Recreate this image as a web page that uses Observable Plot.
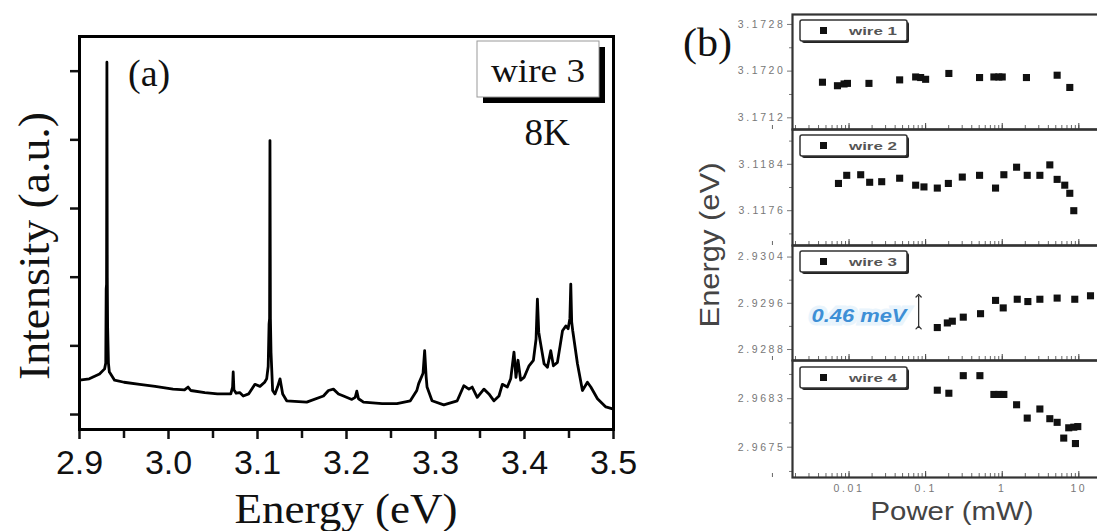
<!DOCTYPE html>
<html><head><meta charset="utf-8">
<script src="https://cdn.jsdelivr.net/npm/d3@7"></script>
<script src="https://cdn.jsdelivr.net/npm/@observablehq/plot@0.6"></script>
<style>
html,body{margin:0;padding:0;background:#fff;overflow:hidden}
#fig{position:relative;width:1097px;height:531px;overflow:hidden;background:#fff}
#fig svg{position:absolute;overflow:visible;background:transparent}
.pb text{letter-spacing:2.6px}
</style></head><body><div id="fig"></div>
<script>
// ---------- Panel (a): PL spectrum of wire 3 at 8K ----------
const specEnergy = [2.900,2.911,2.9225,2.9282,2.9295,2.9300,2.9304,2.9308,2.9312,2.9316,2.9325,2.9335,2.9345,2.9394,2.950,2.9676,2.985,3.0051,3.018,3.0220,3.025,3.0408,3.055,3.0700,3.0720,3.0727,3.0735,3.0760,3.0800,3.0840,3.0900,3.0971,3.1028,3.1080,3.1103,3.1120,3.1130,3.1136,3.1140,3.1145,3.1152,3.1170,3.1196,3.1225,3.1253,3.1283,3.1328,3.1553,3.1741,3.1797,3.1853,3.1910,3.1966,3.2060,3.2098,3.2116,3.2135,3.2191,3.2400,3.2567,3.2717,3.2790,3.2811,3.2860,3.2878,3.2895,3.2905,3.2961,3.3093,3.3244,3.3318,3.3375,3.3412,3.3469,3.3544,3.3600,3.3657,3.3713,3.3751,3.3807,3.3845,3.3882,3.3904,3.3927,3.3957,3.3995,3.4051,3.4100,3.4130,3.4145,3.4160,3.4175,3.4220,3.4258,3.4295,3.4325,3.4370,3.4400,3.4427,3.4464,3.4490,3.4510,3.4520,3.4530,3.4542,3.4595,3.4651,3.4707,3.4745,3.4820,3.4914,3.5000];
const specIntensity = [0.50,0.52,0.59,0.665,0.75,1.83,1.9,5.13,2.0,1.27,0.75,0.62,0.60,0.50,0.47,0.44,0.41,0.37,0.36,0.40,0.35,0.32,0.30,0.30,0.40,0.62,0.36,0.31,0.32,0.27,0.30,0.44,0.41,0.47,0.52,0.70,1.32,1.40,3.99,1.40,0.90,0.35,0.30,0.40,0.52,0.30,0.20,0.18,0.27,0.35,0.37,0.30,0.27,0.22,0.25,0.34,0.23,0.18,0.16,0.16,0.20,0.35,0.45,0.60,0.93,0.55,0.40,0.20,0.14,0.20,0.42,0.37,0.40,0.25,0.37,0.30,0.20,0.27,0.44,0.40,0.52,0.91,0.54,0.79,0.50,0.54,0.71,0.79,1.10,1.68,1.20,1.08,0.74,0.69,0.93,0.71,0.76,1.00,1.22,1.29,1.25,1.40,1.90,1.35,1.22,0.74,0.35,0.47,0.40,0.23,0.11,0.08];
const energyTicks = [2.9,3.0,3.1,3.2,3.3,3.4,3.5];
const energyTickLabels = ["2.9","3.0","3.1","3.2","3.3","3.4","3.5"];
const energyMinorTicks = [2.95,3.05,3.15,3.25,3.35,3.45];
const intensityTicks = [0,1,2,3,4,5];

// ---------- Panel (b): peak energy vs excitation power ----------
const wire1Power  = [0.0045,0.00706,0.00861,0.00953,0.0182,0.0458,0.0741,0.0861,0.100,0.201,0.506,0.778,0.903,1.00,2.07,5.21,7.62];
const wire1Energy = [3.17181,3.17175,3.17178,3.17179,3.17179,3.17185,3.17190,3.17189,3.17186,3.17196,3.17189,3.17190,3.17190,3.17190,3.17189,3.17193,3.17172];
const wire2Power  = [0.00728,0.00933,0.0142,0.0186,0.0267,0.0458,0.0741,0.0951,0.142,0.198,0.301,0.506,0.818,1.05,1.54,2.12,3.10,4.18,5.21,6.55,7.62,8.59];
const wire2Energy = [3.11807,3.11821,3.11822,3.11809,3.11810,3.11816,3.11804,3.11801,3.11799,3.11807,3.11818,3.11821,3.11799,3.11822,3.11835,3.11821,3.11821,3.11839,3.11814,3.11804,3.11790,3.11760];
const wire3Power  = [0.142,0.192,0.223,0.310,0.521,0.818,1.03,1.57,2.16,3.10,5.21,8.85,14.2];
const wire3Energy = [2.92918,2.92926,2.92929,2.92936,2.92942,2.92965,2.92952,2.92967,2.92963,2.92967,2.92969,2.92967,2.92973];
const wire4Power  = [0.142,0.201,0.310,0.511,0.778,0.903,1.05,1.54,2.12,3.10,4.18,5.21,6.35,7.38,8.59,9.03,9.69];
const wire4Energy = [2.96844,2.96839,2.96868,2.96868,2.96837,2.96837,2.96837,2.96820,2.96798,2.96813,2.96797,2.96791,2.96765,2.96782,2.96783,2.96756,2.96784];
const wireNames = ["wire 1","wire 2","wire 3","wire 4"];
const wireTicks = [[3.1712,3.1720,3.1728],[3.1176,3.1184],[2.9288,2.9296,2.9304],[2.9675,2.9683]];
const wireMinorTicks = [[3.1716,3.1724],[3.1172,3.1180,3.1188],[2.9292,2.9300],[2.9671,2.9679,2.9687]];
const wireDomains = [[3.17100,3.17297],[3.11700,3.11900],[2.92861,2.93060],[2.96700,2.96893]];
const powerTicks = [0.01,0.1,1,10];
const powerTickLabels = ["0.01","0.1","1","10"];
const powerMinorTicks = [];
for (const dec of [0.001,0.01,0.1,1,10]) for (let k = 1; k <= 9; k++) powerMinorTicks.push(+(k*dec).toPrecision(3));
const arrowPower = 0.081;

const fig = document.getElementById("fig");
function place(svg, left, top, cls) {
  svg.style.left = left + "px"; svg.style.top = top + "px";
  if (cls) svg.classList.add(cls);
  fig.appendChild(svg);
}

// Panel (a)
const spec = specEnergy.map((e, i) => ({e, v: specIntensity[i]}));
const pa = Plot.plot({
  width: 640, height: 531,
  marginLeft: 79, marginRight: 27, marginTop: 36, marginBottom: 102,
  style: {background: "transparent", overflow: "visible", fontFamily: "Liberation Sans, Arial, sans-serif"},
  x: {domain: [2.9, 3.5]},
  y: {domain: [-0.218, 5.505]},
  marks: [
    Plot.axisX({ticks: energyTicks, tickFormat: d => energyTickLabels[energyTicks.indexOf(d)], tickSize: 10, tickPadding: 10, strokeWidth: 2.5, fontSize: 34, label: null, color: "#111"}),
    Plot.axisX({ticks: energyMinorTicks, tickFormat: () => "", tickSize: 9, strokeWidth: 2.5, label: null, color: "#111"}),
    Plot.axisY({ticks: intensityTicks, tickFormat: () => "", tickSize: 9, strokeWidth: 2.5, label: null, color: "#111"}),
    Plot.line(spec, {x: "e", y: "v", stroke: "#000", strokeWidth: 2.8, strokeLinejoin: "round"}),
    Plot.frame({stroke: "#000", strokeWidth: 3})
  ]
});
place(pa, 0, 0);

// Panel (b): four stacked panels
const wirePowers = [wire1Power, wire2Power, wire3Power, wire4Power];
const wireEnergies = [wire1Energy, wire2Energy, wire3Energy, wire4Energy];
const panelTops = [0, 129, 245, 360];
const panelSpecs = [
  {height: 129, mt: 14, mb: 0},
  {height: 116, mt: 0, mb: 0},
  {height: 115, mt: 0, mb: 0},
  {height: 171, mt: 0, mb: 54}
];
for (let w = 0; w < 4; w++) {
  const data = wirePowers[w].map((p, i) => ({p, e: wireEnergies[w][i]}));
  const marks = [
    Plot.axisY({ticks: wireTicks[w], tickFormat: d => d.toFixed(4), tickSize: 5, tickPadding: 2, fontSize: 10.5, label: null, color: "#777"}),
    Plot.axisY({ticks: wireMinorTicks[w], tickFormat: () => "", tickSize: 3, label: null, color: "#777"}),
    Plot.axisX({ticks: powerMinorTicks, tickFormat: () => "", tickSize: 4, dy: -4, label: null, color: "#666"}),
    Plot.axisX({ticks: powerTicks, tickFormat: () => "", tickSize: 6, dy: -6, label: null, color: "#444"}),
    Plot.dot(data, {x: "p", y: "e", symbol: "square", r: 4, fill: "#111", stroke: null})
  ];
  if (w === 3) {
    marks.push(Plot.axisX({ticks: powerTicks, tickFormat: d => powerTickLabels[powerTicks.indexOf(d)], tickSize: 0, tickPadding: 7, fontSize: 10.5, label: null, color: "#777"}));
  }
  if (w === 2) {
    const [lo, hi] = d3.extent(wire3Energy);
    marks.push(Plot.link([0], {x1: () => arrowPower, x2: () => arrowPower, y1: () => lo, y2: () => hi, stroke: "#333", strokeWidth: 1.3, markerStart: "arrow", markerEnd: "arrow"}));
  }
  marks.push(Plot.frame({stroke: "#333", strokeWidth: 2.2}));
  const ps = panelSpecs[w];
  const pb = Plot.plot({
    width: 430, height: ps.height,
    marginLeft: 112, marginRight: 6, marginTop: ps.mt, marginBottom: ps.mb,
    style: {background: "transparent", overflow: "visible", fontFamily: "Liberation Sans, Arial, sans-serif"},
    x: {type: "log", domain: [0.001828, 21.63]},
    y: {domain: wireDomains[w]},
    marks
  });
  place(pb, 680, panelTops[w], "pb");
}

// Overlay: titles, labels, legends
const ov = d3.create("svg").attr("width", 1097).attr("height", 531)
  .style("left", "0px").style("top", "0px");
const serif = "Liberation Serif, Times New Roman, serif";
const sans = "Liberation Sans, Arial, sans-serif";
ov.append("text").attr("transform", "translate(34,246) rotate(-90)")
  .attr("text-anchor", "middle").attr("dominant-baseline", "central")
  .attr("font-family", serif).attr("font-size", 44).attr("fill", "#111")
  .attr("textLength", 268).attr("lengthAdjust", "spacingAndGlyphs")
  .text("Intensity (a.u.)");
ov.append("text").attr("x", 346).attr("y", 523).attr("text-anchor", "middle")
  .attr("font-family", serif).attr("font-size", 42).attr("fill", "#111")
  .attr("textLength", 223).attr("lengthAdjust", "spacingAndGlyphs")
  .text("Energy (eV)");
ov.append("text").attr("x", 128).attr("y", 86)
  .attr("font-family", serif).attr("font-size", 38).attr("fill", "#111").text("(a)");
// wire 3 legend box
ov.append("rect").attr("x", 483).attr("y", 47).attr("width", 122).attr("height", 56).attr("fill", "#000");
ov.append("rect").attr("x", 477).attr("y", 41).attr("width", 122).attr("height", 56).attr("fill", "#fff").attr("stroke", "#999").attr("stroke-width", 1);
ov.append("text").attr("x", 538).attr("y", 82).attr("text-anchor", "middle")
  .attr("font-family", serif).attr("font-size", 33).attr("fill", "#111")
  .attr("textLength", 94).attr("lengthAdjust", "spacingAndGlyphs").text("wire 3");
ov.append("text").attr("x", 547).attr("y", 145).attr("text-anchor", "middle")
  .attr("font-family", serif).attr("font-size", 37).attr("fill", "#111").text("8K");
// panel (b) labels
ov.append("text").attr("x", 683).attr("y", 56)
  .attr("font-family", serif).attr("font-size", 40).attr("fill", "#111")
  .attr("textLength", 49).attr("lengthAdjust", "spacingAndGlyphs").text("(b)");
ov.append("text").attr("transform", "translate(710,245) rotate(-90)")
  .attr("text-anchor", "middle").attr("dominant-baseline", "central")
  .attr("font-family", sans).attr("font-size", 27).attr("fill", "#444")
  .attr("textLength", 165).attr("lengthAdjust", "spacingAndGlyphs").text("Energy (eV)");
ov.append("text").attr("x", 952).attr("y", 520).attr("text-anchor", "middle")
  .attr("font-family", sans).attr("font-size", 26).attr("fill", "#444")
  .attr("textLength", 163).attr("lengthAdjust", "spacingAndGlyphs").text("Power (mW)");
ov.append("text").attr("x", 859).attr("y", 322).attr("text-anchor", "middle")
  .attr("font-family", sans).attr("font-size", 19).attr("font-style", "italic").attr("font-weight", "bold")
  .attr("fill", "#3d8fd6").attr("stroke", "#e9f4fc").attr("stroke-width", 7).attr("paint-order", "stroke")
  .attr("textLength", 95).attr("lengthAdjust", "spacingAndGlyphs").text("0.46 meV");
const boxTops = [20, 135, 251, 367];
boxTops.forEach((t, i) => {
  ov.append("rect").attr("x", 802).attr("y", t + 2).attr("width", 107).attr("height", 21).attr("fill", "#222").attr("rx", 2);
  ov.append("rect").attr("x", 800).attr("y", t).attr("width", 107).attr("height", 21).attr("fill", "#fff").attr("stroke", "#333").attr("stroke-width", 1.5).attr("rx", 2);
  ov.append("rect").attr("x", 820).attr("y", t + 7).attr("width", 7).attr("height", 7).attr("fill", "#111");
  ov.append("text").attr("x", 849).attr("y", t + 15).attr("font-family", sans).attr("font-size", 11)
    .attr("font-weight", "bold").attr("fill", "#555")
    .attr("textLength", 48).attr("lengthAdjust", "spacingAndGlyphs").text(wireNames[i]);
});
fig.appendChild(ov.node());
</script></body></html>
